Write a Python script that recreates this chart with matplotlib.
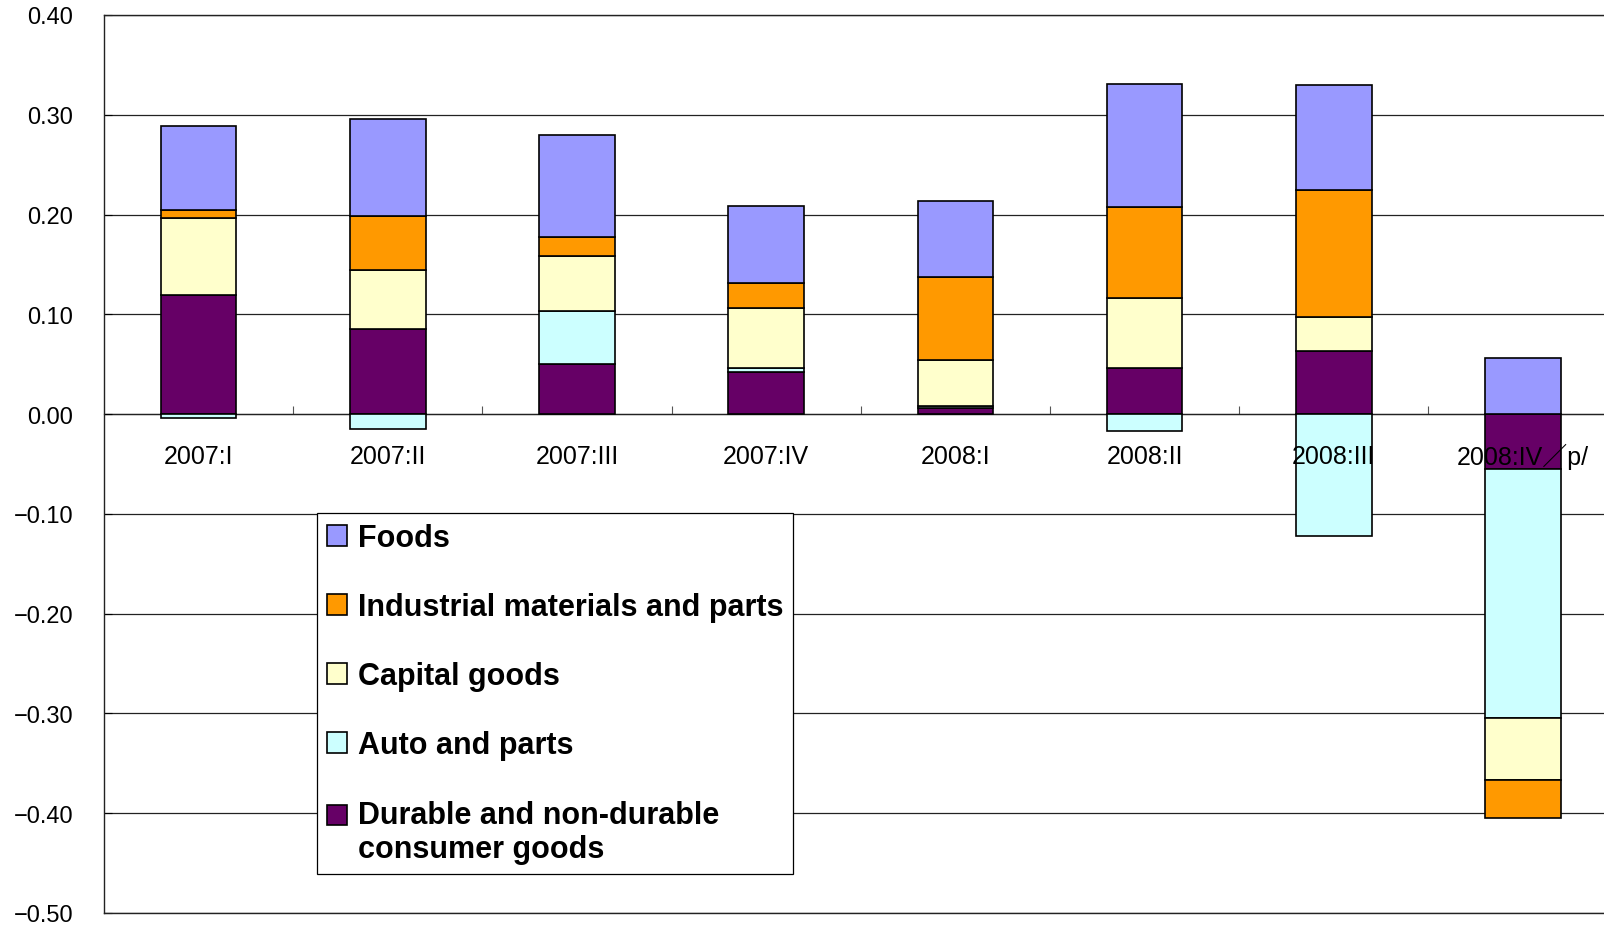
import numpy as np
import matplotlib
matplotlib.use('Agg')
import matplotlib.pyplot as plt
from matplotlib.font_manager import FontProperties
from matplotlib.ticker import FuncFormatter

categories = ['2007:I', '2007:II', '2007:III', '2007:IV',
              '2008:I', '2008:II', '2008:III', '2008:IV\uff0fp/']

durable    = [0.119, 0.085, 0.050, 0.042, 0.006, 0.046, 0.063, -0.055]
auto       = [-0.004, -0.015, 0.053, 0.004, 0.002, -0.017, -0.122, -0.250]
capital    = [0.078, 0.059, 0.055, 0.060, 0.046, 0.070, 0.034, -0.062]
industrial = [0.008, 0.055, 0.020, 0.025, 0.083, 0.092, 0.128, -0.038]
foods      = [0.084, 0.097, 0.102, 0.078, 0.077, 0.123, 0.105, 0.056]

series_names = ['Durable and non-durable\nconsumer goods', 'Auto and parts',
                'Capital goods', 'Industrial materials and parts', 'Foods']
series_vals = [durable, auto, capital, industrial, foods]
series_colors = ['#660066', '#CCFFFF', '#FFFFCC', '#FF9900', '#9999FF']

yticks = [-0.5, -0.4, -0.3, -0.2, -0.1, 0.0, 0.1, 0.2, 0.3, 0.4]

W, H = 1604, 929
fig = plt.figure(figsize=(W / 100, H / 100), dpi=100)
ax = fig.add_axes([104 / W, 1 - 914 / H, 1500 / W, (914 - 16) / H])

x = np.arange(len(categories))
pos_bottom = np.zeros(len(categories))
neg_bottom = np.zeros(len(categories))
bars = []
for name, vals, col in zip(series_names, series_vals, series_colors):
    v = np.array(vals)
    bottom = np.where(v >= 0, pos_bottom, neg_bottom)
    b = ax.bar(x, v, bottom=bottom, width=0.4, color=col,
               edgecolor='black', linewidth=1.2, label=name, zorder=2)
    bars.append(b)
    pos_bottom = pos_bottom + np.where(v >= 0, v, 0)
    neg_bottom = neg_bottom + np.where(v < 0, v, 0)

ax.set_xlim(-0.5, -0.5 + 1500 / 189.2)
ax.set_ylim(-0.5, 0.4)
ax.set_yticks(yticks)
ax.yaxis.set_major_formatter(FuncFormatter(
    lambda v, p: f'{round(v, 2) + 0.0:.2f}'.replace('-', '\u2212')))
ax.yaxis.grid(True, color='#222222', linewidth=0.9)
ax.set_axisbelow(True)
ax.tick_params(axis='y', direction='in', length=6, width=0.8, pad=22,
               labelsize=17)
for lab in ax.get_yticklabels():
    lab.set_fontfamily('Liberation Sans')
ax.set_xticks([])
ax.spines['right'].set_visible(False)
for s in ['left', 'bottom', 'top']:
    ax.spines[s].set_linewidth(1.0)
    ax.spines[s].set_color('#222222')

# category axis crossing at zero with boundary tick marks
secax = ax.secondary_xaxis(0, transform=ax.transData)
secax.set_xticks(np.arange(len(categories) - 1) + 0.5)
secax.tick_params(axis='x', direction='in', length=6, width=0.8,
                  color='#555555', labelbottom=False)
secax.spines['bottom'].set_color('#222222')
secax.spines['bottom'].set_linewidth(0.9)

for i, cat in enumerate(categories):
    ax.annotate(cat, xy=(i, 0), xytext=(0, -30), textcoords='offset points',
                ha='center', va='center', fontsize=18, zorder=6,
                family=['Liberation Sans', 'Noto Sans CJK JP'],
                annotation_clip=False)

handles = bars[::-1]
labels = series_names[::-1]
leg = ax.legend(handles, labels, loc='upper left',
                bbox_to_anchor=(317 / W, 1 - 514 / H),
                bbox_transform=fig.transFigure, borderaxespad=0,
                frameon=True, fancybox=False, edgecolor='black', framealpha=1,
                prop=FontProperties(family='Liberation Sans', weight='bold', size=22),
                handlelength=0.65, handleheight=0.65, handletextpad=0.35,
                labelspacing=1.28, borderpad=0.33)
leg.get_frame().set_linewidth(0.9)
leg.set_zorder(10)

# align handle of the two-line entry with its first line
fig.canvas.draw()
texts = leg.get_texts()
h2 = texts[-1].get_window_extent().height
h1 = texts[0].get_window_extent().height
delta_pt = (h2 - h1) / 2 * 72 / fig.dpi
rect = leg.legend_handles[-1]
rect.set_y(rect.get_y() + delta_pt)

fig.savefig('out.png', dpi=100)
